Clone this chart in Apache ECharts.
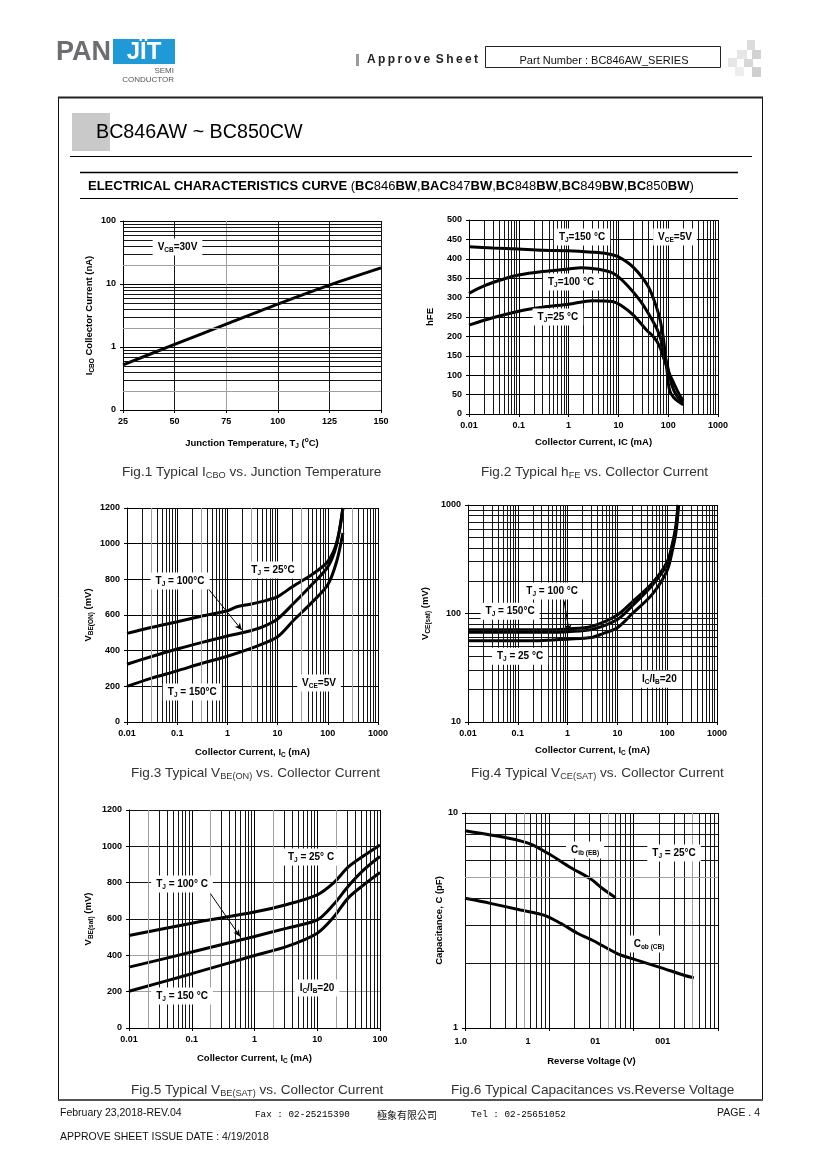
<!DOCTYPE html>
<html><head><meta charset="utf-8">
<script src="https://cdn.jsdelivr.net/npm/echarts@6/dist/echarts.min.js"></script>
<style>html,body{margin:0;padding:0;background:#fff}#c{width:820px;height:1160px}</style>
</head><body><div id="c"></div>
<script>
// ---------- DATA ----------
const fig1Temp = [25, 50, 75, 100, 125, 150];
const fig1Icbo = [0.52, 1.1, 2.3, 4.8, 9.6, 18];
const fig1YTicks = ['0', '1', '10', '100'];

const fig2Ic150 = [0.01, 0.03, 0.1, 0.3, 1, 3, 6, 10, 20, 40, 60, 70, 80, 86, 95, 100, 110, 130, 160, 200];
const fig2Hfe150 = [431, 428, 425, 422, 421, 417, 413, 405, 378, 328, 270, 238, 195, 161, 110, 80, 56, 42, 32, 24];
const fig2Ic100 = [0.01, 0.02, 0.05, 0.1, 0.3, 1, 1.8, 4, 8, 15, 28, 50, 60, 70, 76, 86, 100, 120, 150, 200];
const fig2Hfe100 = [311, 330, 348, 358, 367, 374, 377, 373, 362, 332, 290, 238, 218, 195, 178, 150, 116, 72, 46, 30];
const fig2Ic25 = [0.01, 0.03, 0.1, 0.3, 1, 3, 7.5, 11, 20, 37, 50, 60, 70, 86, 100, 126, 160, 200];
const fig2Hfe25 = [229, 248, 265, 275, 283, 292, 290, 281, 255, 216, 200, 186, 168, 135, 110, 83, 55, 34];
const logXTicks = ['0.01', '0.1', '1', '10', '100', '1000'];

const fig3Ic25 = [0.01, 0.03, 0.1, 0.3, 1, 1.5, 3, 6, 10, 20, 50, 100, 150, 200];
const fig3Vbe25 = [497, 530, 562, 593, 624, 645, 662, 682, 703, 760, 830, 900, 1005, 1200];
const fig3Ic100 = [0.01, 0.03, 0.1, 0.3, 1, 2.4, 5, 10, 20, 50, 100, 150, 200];
const fig3Vbe100 = [324, 366, 409, 445, 482, 506, 534, 578, 660, 775, 870, 995, 1200];
const fig3Ic150 = [0.01, 0.03, 0.1, 0.3, 1, 4, 10, 20, 50, 100, 150, 200];
const fig3Vbe150 = [200, 245, 287, 328, 369, 427, 478, 565, 675, 770, 900, 1060];

const fig4Ic150 = [0.01, 0.1, 0.5, 1, 3, 10, 20, 50, 100, 130, 150, 165];
const fig4Vce150 = [71, 71, 71, 72, 76, 97, 128, 190, 300, 460, 650, 1000];
const fig4Ic100 = [0.01, 0.1, 0.5, 1, 3, 10, 20, 50, 100, 130, 150, 165];
const fig4Vce100 = [67, 67, 67, 68, 71, 88, 118, 182, 285, 440, 620, 1000];
const fig4Ic25 = [0.01, 0.1, 0.2, 0.5, 1, 3, 5, 10, 20, 50, 100, 130, 150, 170];
const fig4Vce25 = [56, 56, 56, 57, 58, 60, 65, 74, 100, 150, 250, 400, 560, 1000];
const fig4YTicks = ['10', '100', '1000'];

const fig5Ic = [0.01, 0.1, 1, 3.3, 10, 18, 31, 55, 100];
const fig5Vbe25 = [509, 577, 638, 680, 733, 797, 885, 948, 1008];
const fig5Vbe100 = [335, 418, 504, 550, 595, 678, 779, 870, 944];
const fig5Vbe150 = [202, 299, 399, 449, 522, 608, 715, 788, 856];
const fig5XTicks = ['0.01', '0.1', '1', '10', '100'];

const fig6VrCib = [0.1, 0.32, 0.6, 1.03, 1.78, 3.08, 4.23, 6.1];
const fig6Cib = [8.27, 7.65, 7.17, 6.39, 5.58, 4.94, 4.47, 4.04];
const fig6VrCob = [0.1, 0.2, 0.455, 0.86, 1.36, 2.15, 3.37, 6.37, 10.9, 20.9, 39.6, 51.7];
const fig6Cob = [4.01, 3.8, 3.54, 3.35, 3.07, 2.76, 2.54, 2.22, 2.07, 1.91, 1.76, 1.71];
const fig6XTicks = ['1.0', '1', '01', '001'];
const fig6YTicks = ['1', '10'];

// ---------- HELPERS ----------
const FF = '"Liberation Sans", Arial, Helvetica, sans-serif';
const zip = (a, b) => a.map((v, i) => [v, b[i]]);
const AX = {
  b: { fontFamily: FF, fontWeight: 'bold', fontSize: 9.5, color: '#000', lineHeight: 13, verticalAlign: 'middle' },
  s: { fontFamily: FF, fontWeight: 'bold', fontSize: 6.5, color: '#000', lineHeight: 13, verticalAlign: 'bottom' },
  p: { fontFamily: FF, fontWeight: 'bold', fontSize: 6.5, color: '#000', lineHeight: 13, verticalAlign: 'top' }
};
const AN = {
  a: { fontFamily: FF, fontWeight: 'bold', fontSize: 10, color: '#000', lineHeight: 13, verticalAlign: 'middle' },
  s: { fontFamily: FF, fontWeight: 'bold', fontSize: 6.5, color: '#000', lineHeight: 13, verticalAlign: 'bottom' }
};
const labelStyle = { color: '#000', fontFamily: FF, fontWeight: 'bold', fontSize: 9 };

function decIdx(v, lo) { return Math.round(Math.log10(v) - Math.log10(lo)); }

function logAxis(gi, lo, hi, ticks, name, gap, extra) {
  return Object.assign({
    type: 'log', logBase: 10, gridIndex: gi, min: lo, max: hi,
    splitNumber: Math.round(Math.log10(hi / lo)),
    axisLine: { show: true, onZero: false, lineStyle: { color: '#000', width: 1 } },
    axisTick: { show: true, length: 3, lineStyle: { color: '#000' } },
    axisLabel: Object.assign({ margin: 7, formatter: v => ticks[decIdx(v, lo)] }, labelStyle),
    splitLine: { show: true, lineStyle: { color: '#000', width: 1 } },
    name: name, nameLocation: 'middle', nameGap: gap,
    nameTextStyle: { rich: AX }
  }, extra || {});
}
function valAxis(gi, lo, hi, step, name, gap, extra, splitColors) {
  return Object.assign({
    type: 'value', gridIndex: gi, min: lo, max: hi, interval: step,
    axisLine: { show: true, onZero: false, lineStyle: { color: '#000', width: 1 } },
    axisTick: { show: true, length: 3, lineStyle: { color: '#000' } },
    axisLabel: Object.assign({ margin: 7, formatter: v => String(v) }, labelStyle),
    splitLine: { show: true, lineStyle: { color: splitColors || '#000', width: 1 } },
    name: name, nameLocation: 'middle', nameGap: gap,
    nameTextStyle: { rich: AX }
  }, extra || {});
}
function minors(lo, hi) {
  const out = [];
  for (let e = Math.floor(Math.log10(lo)); e < Math.ceil(Math.log10(hi)); e++) {
    const b = Math.pow(10, e);
    for (let m = 2; m <= 9; m++) {
      const v = +(m * b).toPrecision(3);
      if (v > lo && v < hi) out.push([v, m]);
    }
  }
  return out;
}
function gridSeries(gi, xs, ys, grayX, grayY) {
  const d = [];
  xs.forEach(([v, m]) => d.push({ xAxis: v, lineStyle: { color: (grayX || []).includes(m) ? '#a0a0a0' : '#151515', width: 1, type: 'solid' } }));
  ys.forEach(([v, m]) => d.push({ yAxis: v, lineStyle: { color: (grayY || []).includes(m) ? '#a0a0a0' : '#151515', width: 1, type: 'solid' } }));
  return {
    type: 'line', xAxisIndex: gi, yAxisIndex: gi, data: [], z: 1, silent: true,
    markLine: { silent: true, symbol: ['none', 'none'], animation: false, label: { show: false },
      emphasis: { disabled: true }, lineStyle: { type: 'solid', width: 1, color: '#151515' }, data: d }
  };
}
function curve(gi, xs, ys) {
  return { type: 'line', xAxisIndex: gi, yAxisIndex: gi, data: zip(xs, ys), showSymbol: false, symbol: 'none',
    smooth: 0.3, z: 3, silent: true, lineStyle: { color: '#000', width: 3 } };
}
function annSeries(gi, items, arrows) {
  const s = {
    type: 'line', xAxisIndex: gi, yAxisIndex: gi, data: [], z: 4, silent: true,
    markPoint: { symbol: 'rect', symbolSize: 1, silent: true, animation: false,
      itemStyle: { color: 'rgba(0,0,0,0)' },
      label: { show: true, position: 'inside', backgroundColor: '#fff', padding: [2, 5], rich: AN },
      data: items.map(it => ({ coord: [it[0], it[1]], label: { formatter: it[2] } })) }
  };
  if (arrows) {
    s.markLine = { silent: true, animation: false, symbol: ['none', 'arrow'], symbolSize: [5, 7],
      label: { show: false }, lineStyle: { type: 'solid', width: 1, color: '#000' },
      data: arrows.map(a => [{ coord: [a[0], a[1]] }, { coord: [a[2], a[3]] }]) };
  }
  return s;
}

// ---------- OPTION ----------
const grids = [
  { left: 123, top: 221, width: 258, height: 189 },
  { left: 469, top: 220, width: 249, height: 194 },
  { left: 127, top: 508, width: 251, height: 214 },
  { left: 468, top: 505, width: 249, height: 217 },
  { left: 129, top: 810, width: 251, height: 218 },
  { left: 465, top: 813, width: 253, height: 215 },
  { left: 460.7, top: 813, width: 202, height: 215 }
];

const xAxes = [
  valAxis(0, 25, 150, 25, '{b|Junction Temperature, T}{s|J}{b| (}{p|o}{b|C)}', 27, null,
    ['#151515', '#151515', '#a0a0a0', '#151515', '#151515', '#151515']),
  logAxis(1, 0.01, 1000, logXTicks, '{b|Collector Current, IC (mA)}', 22),
  logAxis(2, 0.01, 1000, logXTicks, '{b|Collector Current, I}{s|C}{b| (mA)}', 24),
  logAxis(3, 0.01, 1000, logXTicks, '{b|Collector Current, I}{s|C}{b| (mA)}', 22),
  logAxis(4, 0.01, 100, fig5XTicks, '{b|Collector Current, I}{s|C}{b| (mA)}', 24),
  logAxis(5, 0.1, 100, fig6XTicks, '{b|Reverse Voltage (V)}', 27, { axisLabel: { show: false } }),
  { type: 'value', gridIndex: 6, min: 0, max: 3, interval: 1,
    axisLine: { show: false }, axisTick: { show: false }, splitLine: { show: false },
    axisLabel: Object.assign({ margin: 9, formatter: v => fig6XTicks[v] }, labelStyle) }
];
const yAxes = [
  logAxis(0, 0.1, 100, fig1YTicks, '{b|I}{s|CBO}{b| Collector Current (nA)}', 27),
  valAxis(1, 0, 500, 50, '{b|hFE}', 32),
  valAxis(2, 0, 1200, 200, '{b|V}{s|BE(ON)}{b| (mV)}', 32),
  logAxis(3, 10, 1000, fig4YTicks, '{b|V}{s|CE(sat)}{b| (mV)}', 36),
  valAxis(4, 0, 1200, 200, '{b|V}{s|BE(sat)}{b| (mV)}', 34, null,
    ['#151515', '#a0a0a0', '#a0a0a0', '#151515', '#151515', '#151515', '#151515']),
  logAxis(5, 1, 10, fig6YTicks, '{b|Capacitance, C (pF)}', 19),
  { type: 'value', gridIndex: 6, show: false, min: 0, max: 1 }
];

const series = [
  // Fig 1
  gridSeries(0, [], minors(0.1, 100), [], [2]),
  curve(0, fig1Temp, fig1Icbo),
  annSeries(0, [[51.4, 38.6, '{a|V}{s|CB}{a|=30V}']]),
  // Fig 2
  gridSeries(1, minors(0.01, 1000), [], [], []),
  curve(1, fig2Ic150, fig2Hfe150),
  curve(1, fig2Ic100, fig2Hfe100),
  curve(1, fig2Ic25, fig2Hfe25),
  annSeries(1, [
    [1.86, 456, '{a|T}{s|J}{a|=150 °C}'],
    [137, 456, '{a|V}{s|CE}{a|=5V}'],
    [1.12, 340, '{a|T}{s|J}{a|=100 °C}'],
    [0.61, 250, '{a|T}{s|J}{a|=25 °C}']
  ]),
  // Fig 3
  gridSeries(2, minors(0.01, 1000), [], [3], []),
  curve(2, fig3Ic25, fig3Vbe25),
  curve(2, fig3Ic100, fig3Vbe100),
  curve(2, fig3Ic150, fig3Vbe150),
  annSeries(2, [
    [8.1, 852, '{a|T}{s|J}{a| = 25°C}'],
    [0.114, 791, '{a|T}{s|J}{a| = 100°C}'],
    [0.2, 168, '{a|T}{s|J}{a| = 150°C}'],
    [66.8, 219, '{a|V}{s|CE}{a|=5V}']
  ], [[0.4, 753, 1.93, 516]]),
  // Fig 4
  gridSeries(3, minors(0.01, 1000), minors(10, 1000), [], []),
  curve(3, fig4Ic150, fig4Vce150),
  curve(3, fig4Ic100, fig4Vce100),
  curve(3, fig4Ic25, fig4Vce25),
  annSeries(3, [
    [0.49, 161, '{a|T}{s|J}{a| = 100 °C}'],
    [0.07, 105, '{a|T}{s|J}{a| = 150°C}'],
    [0.111, 40.4, '{a|T}{s|J}{a| = 25 °C}'],
    [69.7, 24.8, '{a|I}{s|C}{a|/I}{s|B}{a|=20}']
  ], [[0.85, 130, 1.08, 68]]),
  // Fig 5
  gridSeries(4, minors(0.01, 100), [], [2], []),
  curve(4, fig5Ic, fig5Vbe25),
  curve(4, fig5Ic, fig5Vbe100),
  curve(4, fig5Ic, fig5Vbe150),
  annSeries(4, [
    [7.95, 941, '{a|T}{s|J}{a| = 25° C}'],
    [0.07, 793, '{a|T}{s|J}{a| = 100° C}'],
    [0.07, 176, '{a|T}{s|J}{a| = 150 °C}'],
    [9.9, 220, '{a|I}{s|C}{a|/I}{s|B}{a|=20}']
  ], [[0.2, 738, 0.59, 503]]),
  // Fig 6
  gridSeries(5, minors(0.1, 100), minors(1, 10), [5], [5]),
  curve(5, fig6VrCib, fig6Cib),
  curve(5, fig6VrCob, fig6Cob),
  annSeries(5, [
    [2.65, 6.73, '{a|C}{s|ib (EB)}'],
    [30.1, 6.52, '{a|T}{s|J}{a| = 25°C}'],
    [15.2, 2.46, '{a|C}{s|ob (CB)}']
  ])
];
series.forEach(s => { s.lineStyle = s.lineStyle || { width: 0 }; });

// ---------- PAGE DECORATION ----------
function T(text, x, y, font, opts) {
  return Object.assign({ type: 'text', silent: true, style: Object.assign({ text: text, x: x, y: y, font: font,
    fill: '#000', align: 'left', verticalAlign: 'middle' }, opts || {}) });
}
const CAP = {
  n: { fontFamily: FF, fontSize: 13.6, fill: '#333', color: '#333', lineHeight: 17, verticalAlign: 'bottom' },
  s: { fontFamily: FF, fontSize: 9.2, fill: '#333', color: '#333', lineHeight: 16, verticalAlign: 'bottom' }
};
function cap(text, x, y) { return T(text, x, y, '13.6px ' + FF, { rich: CAP }); }
const HD = {
  b: { fontFamily: FF, fontWeight: 'bold', fontSize: 13, fill: '#000', color: '#000' },
  n: { fontFamily: FF, fontWeight: 'normal', fontSize: 13, fill: '#000', color: '#000' }
};
const heading = '{b|ELECTRICAL CHARACTERISTICS CURVE }{n|(}{b|BC}{n|846}{b|BW}{n|,}{b|BAC}{n|847}{b|BW}{n|,}{b|BC}{n|848}{b|BW}{n|,}{b|BC}{n|849}{b|BW}{n|,}{b|BC}{n|850}{b|BW}{n|)}';
const sp = s => s.split('').join('\u2009');

const graphics = [
  // logo
  T('PAN', 56, 53, 'bold 27px ' + FF, { fill: '#6d6e71' }),
  { type: 'rect', silent: true, shape: { x: 113, y: 39, width: 62, height: 25 }, style: { fill: '#1f9ad6' } },
  T('JÏT', 144, 52, 'bold 24px ' + FF, { fill: '#fff', align: 'center' }),
  T('SEMI', 174, 71, '8px ' + FF, { fill: '#555', align: 'right' }),
  T('CONDUCTOR', 174, 80, '8px ' + FF, { fill: '#555', align: 'right' }),
  // approve sheet
  { type: 'rect', silent: true, shape: { x: 356, y: 54, width: 3, height: 12 }, style: { fill: '#9a9a9a' } },
  T(sp('Approve') + '\u2009 ' + sp('Sheet'), 367, 60, 'bold 12px ' + FF, { fill: '#222' }),
  { type: 'rect', silent: true, shape: { x: 485.5, y: 46.5, width: 235, height: 21 }, style: { fill: 'none', stroke: '#222', lineWidth: 1 } },
  T('Part Number : BC846AW_SERIES', 604, 61, '11px ' + FF, { fill: '#111', align: 'center' }),
  // checker decoration
  { type: 'rect', silent: true, shape: { x: 747, y: 40, width: 8, height: 10 }, style: { fill: '#dcdcdc' } },
  { type: 'rect', silent: true, shape: { x: 737, y: 50, width: 10, height: 9 }, style: { fill: '#e6e6e6' } },
  { type: 'rect', silent: true, shape: { x: 752, y: 50, width: 9, height: 9 }, style: { fill: '#d2d2d2' } },
  { type: 'rect', silent: true, shape: { x: 728, y: 58, width: 9, height: 9 }, style: { fill: '#e6e6e6' } },
  { type: 'rect', silent: true, shape: { x: 744, y: 59, width: 9, height: 8 }, style: { fill: '#d8d8d8' } },
  { type: 'rect', silent: true, shape: { x: 752, y: 67, width: 9, height: 10 }, style: { fill: '#cfcfcf' } },
  { type: 'rect', silent: true, shape: { x: 735, y: 67, width: 9, height: 9 }, style: { fill: '#eeeeee' } },
  // frame
  { type: 'rect', silent: true, shape: { x: 58.5, y: 97.5, width: 704, height: 1002.5 }, style: { fill: 'none', stroke: '#111', lineWidth: 1 } },
  { type: 'line', silent: true, shape: { x1: 58, y1: 97.5, x2: 763, y2: 97.5 }, style: { stroke: '#222', lineWidth: 2 } },
  { type: 'line', silent: true, shape: { x1: 58, y1: 1100, x2: 763, y2: 1100 }, style: { stroke: '#555', lineWidth: 2 } },
  // title
  { type: 'rect', silent: true, shape: { x: 72, y: 113, width: 38, height: 38 }, style: { fill: '#c9c9c9' } },
  T('BC846AW ~ BC850CW', 96, 133, '19.7px ' + FF, { fill: '#000' }),
  { type: 'line', silent: true, shape: { x1: 70, y1: 156.5, x2: 752, y2: 156.5 }, style: { stroke: '#000', lineWidth: 1 } },
  { type: 'line', silent: true, shape: { x1: 80, y1: 172.5, x2: 738, y2: 172.5 }, style: { stroke: '#000', lineWidth: 1.6 } },
  { type: 'line', silent: true, shape: { x1: 80, y1: 198.5, x2: 738, y2: 198.5 }, style: { stroke: '#000', lineWidth: 1 } },
  T(heading, 88, 186, 'bold 13px ' + FF, { rich: HD }),
  // captions
  cap('{n|Fig.1 Typical I}{s|CBO}{n| vs. Junction Temperature}', 122, 471),
  cap('{n|Fig.2 Typical h}{s|FE}{n| vs. Collector Current}', 481, 471),
  cap('{n|Fig.3 Typical V}{s|BE(ON)}{n| vs. Collector Current}', 131, 772),
  cap('{n|Fig.4 Typical V}{s|CE(SAT)}{n| vs. Collector Current}', 471, 772),
  cap('{n|Fig.5 Typical V}{s|BE(SAT)}{n| vs. Collector Current}', 131, 1089),
  cap('{n|Fig.6 Typical Capacitances vs.Reverse Voltage}', 451, 1089),
  // footer
  T('February 23,2018-REV.04', 60, 1113, '10.5px ' + FF, { fill: '#111' }),
  T('Fax : 02-25215390', 255, 1115, '9.3px "Liberation Mono", "DejaVu Sans Mono", monospace', { fill: '#000' }),
  T('極象有限公司', 377, 1115, '10px "Noto Sans CJK TC", "Noto Sans CJK SC", sans-serif', { fill: '#111' }),
  T('Tel : 02-25651052', 471, 1115, '9.3px "Liberation Mono", "DejaVu Sans Mono", monospace', { fill: '#000' }),
  T('PAGE . 4', 760, 1113, '10.5px ' + FF, { fill: '#111', align: 'right' }),
  T('APPROVE SHEET ISSUE DATE : 4/19/2018', 60, 1137, '10.5px ' + FF, { fill: '#111' })
];

const option = {
  animation: false,
  backgroundColor: '#fff',
  grid: grids,
  xAxis: xAxes,
  yAxis: yAxes,
  series: series,
  graphic: { elements: graphics }
};
const chart = echarts.init(document.getElementById('c'), null, { renderer: 'canvas' });
chart.setOption(option);
</script></body></html>
